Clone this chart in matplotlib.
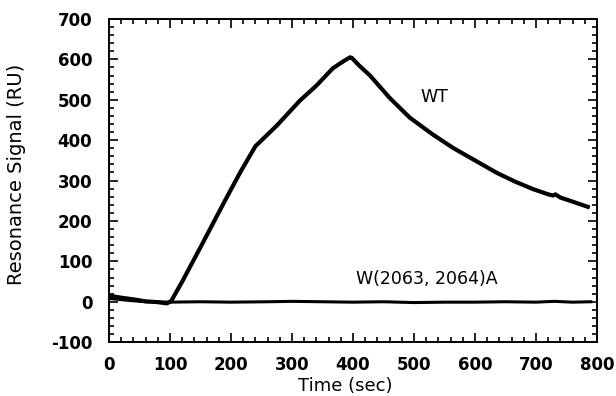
import matplotlib.pyplot as plt
from matplotlib.ticker import MultipleLocator

# WT binding curve (time in sec, response in RU)
wt_time = [0, 20, 40, 60, 80, 95, 102, 120, 150, 190, 215, 240, 275, 313, 340,
           367, 385, 395, 398, 410, 428, 460, 493, 530, 564, 600, 636, 665,
           695, 720, 728, 732, 740, 760, 785]
wt_signal = [15, 10, 6, 1, -1, -4, 2, 50, 135, 250, 320, 385, 436, 498, 535,
             578, 596, 605, 604, 585, 560, 505, 456, 415, 381, 350, 319, 298,
             279, 266, 263, 266, 258, 248, 235]

# W(2063, 2064)A mutant curve
mut_time = [0, 15, 35, 60, 100, 150, 200, 260, 300, 350, 400, 450, 500, 550,
            600, 650, 700, 730, 760, 790]
mut_signal = [8, 6, 3, 0, -1, 0, -1, 0, 1, 0, -1, 0, -2, -1, -1, 0, -1, 1, -1, 0]

plt.rcParams["font.family"] = "DejaVu Sans"
plt.rcParams["axes.unicode_minus"] = False

fig = plt.figure(figsize=(6.16, 3.96), dpi=100)
ax = fig.add_axes([0.177, 0.136, 0.792, 0.816])

ax.plot(wt_time, wt_signal, color="black", lw=3.0, solid_joinstyle="round")
ax.plot(mut_time, mut_signal, color="black", lw=2.2)

ax.text(534, 506, "WT", fontsize=12.5, ha="center", va="center")
ax.text(521, 57, "W(2063, 2064)A", fontsize=12.5, ha="center", va="center")

ax.set_xlim(0, 800)
ax.set_ylim(-100, 700)
ax.xaxis.set_major_locator(MultipleLocator(100))
ax.xaxis.set_minor_locator(MultipleLocator(20))
ax.yaxis.set_major_locator(MultipleLocator(100))
ax.yaxis.set_minor_locator(MultipleLocator(20))
ax.tick_params(which="both", direction="in", top=True, right=True,
               width=1.2, labelsize=12)
ax.tick_params(which="major", length=6.5)
ax.tick_params(which="minor", length=3.5)
ax.tick_params(axis="x", pad=10)
ax.tick_params(axis="y", pad=12)
for lbl in ax.get_xticklabels() + ax.get_yticklabels():
    lbl.set_fontweight("bold")
for s in ax.spines.values():
    s.set_linewidth(1.4)

ax.set_xlabel("Time (sec)", fontsize=13)
ax.xaxis.set_label_coords(0.485, -0.108)
ax.set_ylabel("Resonance Signal (RU)", fontsize=14)
ax.yaxis.set_label_coords(-0.17, 0.52)

fig.savefig("out.png", dpi=100)
